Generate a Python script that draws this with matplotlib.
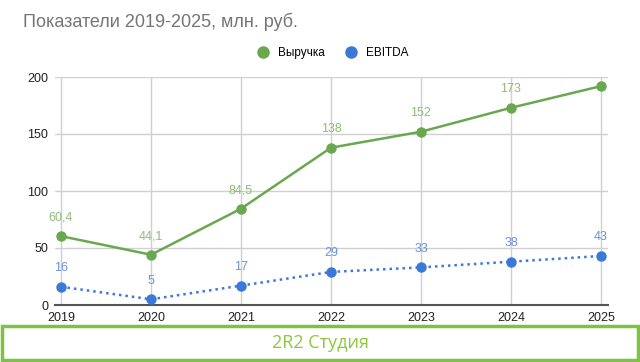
import matplotlib
matplotlib.use('Agg')
import matplotlib.pyplot as plt
from matplotlib.patches import Rectangle
from matplotlib.lines import Line2D

years = [2019, 2020, 2021, 2022, 2023, 2024, 2025]
revenue = [60.4, 44.1, 84.5, 138, 152, 173, 192]
ebitda = [16, 5, 17, 29, 33, 38, 43]
revenue_labels = ["60,4", "44,1", "84,5", "138", "152", "173", ""]
ebitda_labels = ["16", "5", "17", "29", "33", "38", "43"]

GREEN = "#6aa84f"
BLUE = "#3c78d8"
GREEN_TXT = "#8fbc74"
BLUE_TXT = "#6a93d8"

plt.rcParams['font.family'] = ['Liberation Sans', 'DejaVu Sans']

fig = plt.figure(figsize=(6.4, 3.62), dpi=100)
ax = fig.add_axes([55 / 640, 1 - 305 / 362, (608 - 55) / 640, (305 - 77) / 362])

ax.plot(years, revenue, color=GREEN, lw=1.8, marker='o', ms=6.5, zorder=3)
ax.plot(years, ebitda, color=BLUE, lw=1.8, ls=(0, (1, 1.6)), marker='o', ms=6.5, zorder=3)

for x, y, s in zip(years, revenue, revenue_labels):
    if s:
        ax.annotate(s, (x, y), xytext=(0, 9), textcoords='offset points',
                    ha='center', va='bottom', color=GREEN_TXT, fontsize=9)
for x, y, s in zip(years, ebitda, ebitda_labels):
    ax.annotate(s, (x, y), xytext=(0, 9), textcoords='offset points',
                ha='center', va='bottom', color=BLUE_TXT, fontsize=9)

ax.set_xlim(2018.933, 2025.078)
ax.set_ylim(0, 200)
ax.set_xticks(years)
ax.set_yticks([0, 50, 100, 150, 200])
ax.grid(True, color='#d0d0d0', lw=1)
ax.set_axisbelow(True)
for sp in ['top', 'right', 'left']:
    ax.spines[sp].set_visible(False)
ax.spines['bottom'].set_color('#555555')
ax.spines['bottom'].set_linewidth(1.5)
ax.tick_params(length=0, labelsize=9, colors='#222222')
ax.tick_params(axis='x', pad=5)
ax.tick_params(axis='y', pad=5)

fig.text(23 / 640, 1 - 22 / 362, "Показатели 2019-2025, млн. руб.", fontsize=13,
         color='#757575', va='center', ha='left')

handles = [Line2D([], [], ls='none', marker='o', ms=8, color=GREEN),
           Line2D([], [], ls='none', marker='o', ms=8, color=BLUE)]
fig.legend(handles, ["Выручка", "EBITDA"], loc='center', bbox_to_anchor=(330 / 640, 1 - 53 / 362),
           ncol=2, frameon=False, fontsize=8.5, handletextpad=0.3, columnspacing=1.2)

fig.patches.append(Rectangle((2 / 640, 1 - 360 / 362), 636 / 640, 34 / 362,
                             transform=fig.transFigure, fill=False,
                             edgecolor='#7dc242', lw=2.5))
fig.text(0.5, 1 - 343 / 362, "2R2 Студия", fontsize=13, color='#8dc63f',
         ha='center', va='center', family=['Open Sans', 'DejaVu Sans'])

fig.savefig('out.png', dpi=100)
